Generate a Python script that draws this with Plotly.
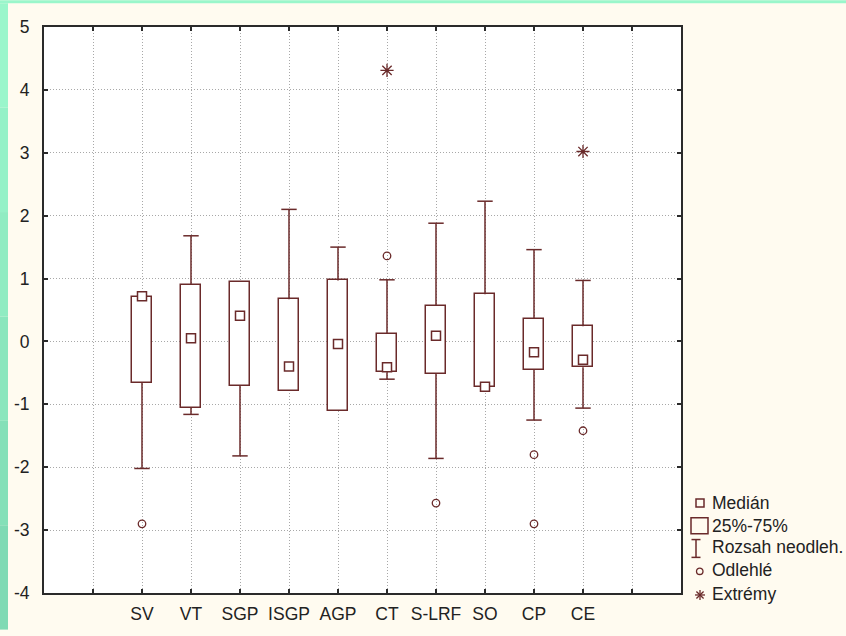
import plotly.graph_objects as go

# Box-plot summary per variable
categories = ["SV", "VT", "SGP", "ISGP", "AGP", "CT", "S-LRF", "SO", "CP", "CE"]
median = [0.72, 0.05, 0.41, -0.40, -0.04, -0.41, 0.09, -0.72, -0.17, -0.29]
q1 = [-0.66, -1.06, -0.71, -0.78, -1.11, -0.49, -0.51, -0.73, -0.45, -0.41]
q3 = [0.70, 0.90, 0.95, 0.67, 0.97, 0.12, 0.57, 0.75, 0.36, 0.24]
whisker_low = [-2.02, -1.16, -1.82, -0.78, -1.11, -0.60, -1.86, -0.73, -1.25, -1.06]
whisker_high = [0.70, 1.68, 0.95, 2.10, 1.50, 0.98, 1.88, 2.23, 1.46, 0.97]

outlier_cat = ["SV", "CT", "S-LRF", "CP", "CP", "CE"]
outlier_val = [-2.90, 1.36, -2.57, -1.80, -2.90, -1.42]
extreme_cat = ["CT", "CE"]
extreme_val = [4.31, 3.02]

legend_labels = ["Medián", "25%-75%", "Rozsah neodleh.", "Odlehlé", "Extrémy"]

y_ticks = list(range(-4, 6))
y_ticktext = [str(v) for v in y_ticks]

INK = "#6a2a2a"
FONT = dict(family="Liberation Sans, Arial, sans-serif", size=17.5, color="#222222")

W, H = 846, 636
ML, MR, MT, MB = 44, 165, 27, 37
PW, PH = W - ML - MR, H - MT - MB

pos = {c: i + 1 for i, c in enumerate(categories)}
xs = [pos[c] for c in categories]


def px(x):
    return (x - ML) / PW


def py(y):
    return (H - MB - y) / PH


fig = go.Figure()

# interquartile boxes
fig.add_trace(go.Bar(
    x=xs, y=[b - a for a, b in zip(q1, q3)], base=q1, width=0.42,
    marker=dict(color="white", line=dict(color=INK, width=1.5)),
    showlegend=False, hoverinfo="skip",
))

# whisker stems (only where the whisker extends beyond the box)
stem_x, stem_y, cap_x, cap_y = [], [], [], []
for x, lo, b, t, hi in zip(xs, whisker_low, q1, q3, whisker_high):
    if hi > t:
        stem_x += [x, x, None]
        stem_y += [t, hi, None]
        cap_x.append(x)
        cap_y.append(hi)
    if lo < b:
        stem_x += [x, x, None]
        stem_y += [b, lo, None]
        cap_x.append(x)
        cap_y.append(lo)

fig.add_trace(go.Scatter(
    x=stem_x, y=stem_y, mode="lines", line=dict(color=INK, width=1.5),
    showlegend=False, hoverinfo="skip",
))
fig.add_trace(go.Scatter(
    x=cap_x, y=cap_y, mode="markers",
    marker=dict(symbol="line-ew", size=11, line=dict(color=INK, width=1.5)),
    showlegend=False, hoverinfo="skip",
))

# medians
fig.add_trace(go.Scatter(
    x=xs, y=median, mode="markers",
    marker=dict(symbol="square", size=9, color="white",
                line=dict(color=INK, width=1.5)),
    showlegend=False,
))

# outliers
fig.add_trace(go.Scatter(
    x=[pos[c] for c in outlier_cat], y=outlier_val, mode="markers",
    marker=dict(symbol="circle-open", size=7.5, color=INK, line=dict(width=1.3)),
    showlegend=False,
))

# extremes
fig.add_trace(go.Scatter(
    x=[pos[c] for c in extreme_cat], y=extreme_val, mode="markers",
    marker=dict(symbol="asterisk-open", size=11, color=INK, line=dict(width=1.3, color=INK)),
    showlegend=False,
))

shapes = []

# green frame strips around the cream page
bands = ["#9af6cb", "#95f1c7", "#90ecc2", "#8ae6bd", "#84e0b8", "#7fdab4"]
n = len(bands)
for i, col in enumerate(bands):
    shapes.append(dict(type="rect", xref="paper", yref="paper",
                       x0=px(0), x1=px(8),
                       y0=py(3 + (H - 3) * (i + 1) / n), y1=py(3 + (H - 3) * i / n),
                       fillcolor=col, line=dict(width=0), layer="above"))
shapes.append(dict(type="rect", xref="paper", yref="paper",
                   x0=px(0), x1=px(W), y0=py(3), y1=py(0),
                   fillcolor="#9af6cb", line=dict(width=0), layer="above"))

# legend keys
lw = dict(color=INK, width=1.5)
shapes.append(dict(type="rect", xref="paper", yref="paper",
                   x0=px(696), x1=px(704), y0=py(512), y1=py(504), line=lw))
shapes.append(dict(type="rect", xref="paper", yref="paper",
                   x0=px(691), x1=px(708), y0=py(539), y1=py(523), line=lw))
shapes.append(dict(type="line", xref="paper", yref="paper",
                   x0=px(696), x1=px(696), y0=py(563), y1=py(545), line=lw))
for yy in (545, 563):
    shapes.append(dict(type="line", xref="paper", yref="paper",
                       x0=px(691.5), x1=px(700.5), y0=py(yy), y1=py(yy), line=lw))
shapes.append(dict(type="circle", xref="paper", yref="paper",
                   x0=px(696.5), x1=px(703), y0=py(580.3), y1=py(573.8),
                   line=dict(color=INK, width=1.3)))
cx, cy, r = 700, 601, 5
for dx, dy in ((0, r), (r, 0), (3.6, 3.6), (3.6, -3.6)):
    shapes.append(dict(type="line", xref="paper", yref="paper",
                       x0=px(cx - dx), x1=px(cx + dx), y0=py(cy - dy), y1=py(cy + dy),
                       line=dict(color=INK, width=1.3)))

annotations = []
for label, yy in zip(legend_labels, (508, 531, 553, 576, 600)):
    annotations.append(dict(text=label, xref="paper", yref="paper",
                            x=px(710), y=py(yy), xanchor="left", yanchor="middle",
                            showarrow=False, font=FONT))

axis_common = dict(
    showline=True, linecolor="#2a2a2a", linewidth=2, mirror="ticks",
    ticks="inside", ticklen=4, tickwidth=1.5, tickcolor="#2a2a2a",
    showgrid=True, gridcolor="#a8a8a8", griddash="1px,2px", gridwidth=1,
    zeroline=False, tickfont=FONT,
)

fig.update_layout(
    width=W, height=H,
    margin=dict(l=ML, r=MR, t=MT, b=MB),
    paper_bgcolor="#fffbf0", plot_bgcolor="white",
    xaxis=dict(range=[-1, 12], tickvals=list(range(0, 12)),
               ticktext=[""] + categories + [""], ticklabelstandoff=4,
               **axis_common),
    yaxis=dict(range=[-4, 5], tickvals=y_ticks, ticktext=y_ticktext,
               ticklabelstandoff=9, **axis_common),
    shapes=shapes, annotations=annotations,
    showlegend=False, bargap=0,
)

fig.write_html("out.html")
